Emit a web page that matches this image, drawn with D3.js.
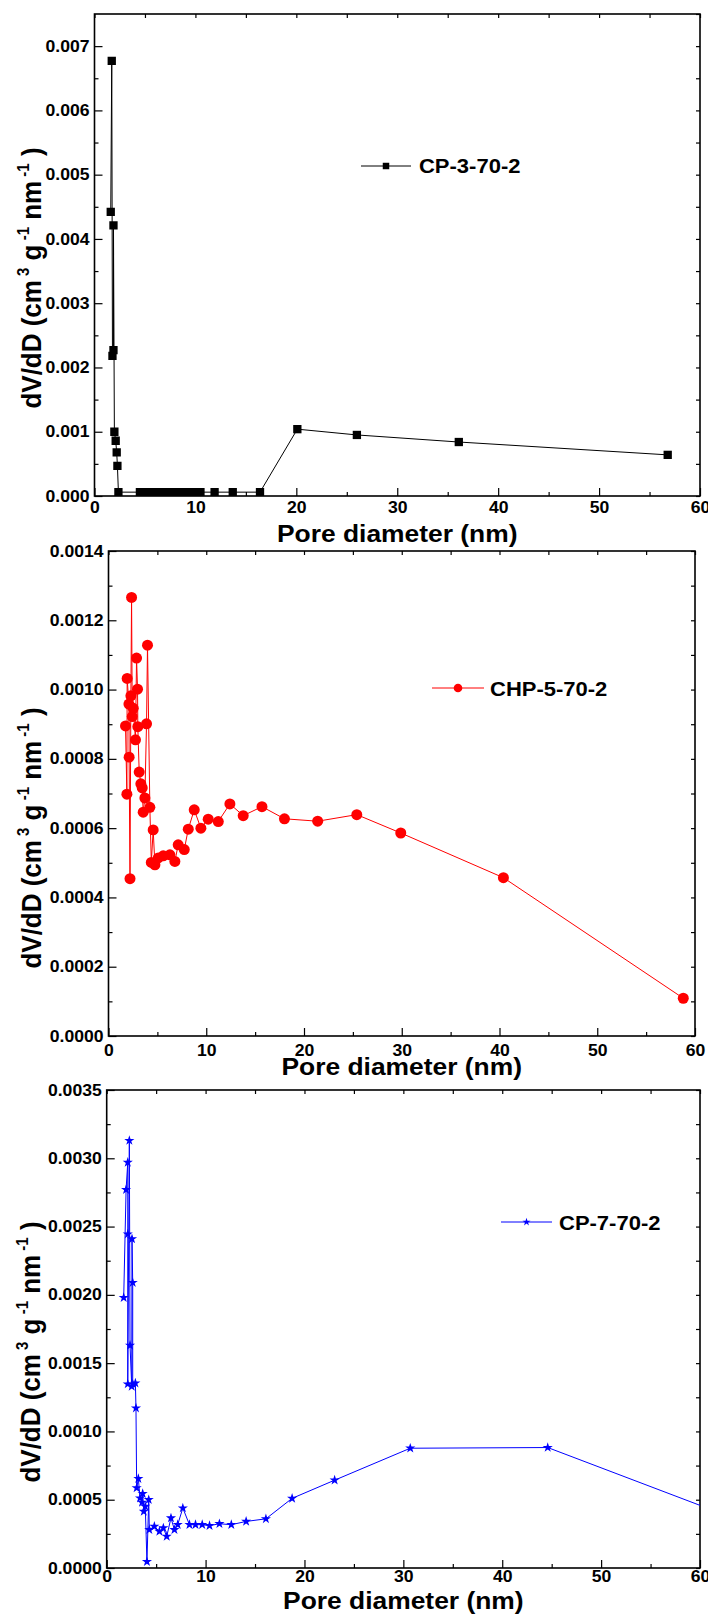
<!DOCTYPE html>
<html>
<head>
<meta charset="utf-8">
<script src="https://cdn.jsdelivr.net/npm/d3@7"></script>
<style>
  body { margin: 0; background: #fff; }
  svg text { font-family: "Liberation Sans", Arial, sans-serif; font-weight: bold; fill: #000; }
  .tick text { font-size: 16px; }
  .tick line { stroke: #000; stroke-width: 1.2px; }
  .legend-label { font-size: 20px; }
  .x-title { font-size: 24px; }
  .y-title { font-size: 26px; }
</style>
</head>
<body>
<svg id="fig" width="708" height="1617"></svg>
<script>
// ---- Pore-size distributions (BJH dV/dD) ----

// CP-3-70-2
const cp3Diameter = [1.61, 1.71, 1.78, 1.88, 1.88, 1.97, 2.10, 2.20, 2.27, 2.37,
  4.5, 4.9, 5.3, 5.7, 6.1, 6.6, 7.1, 7.6, 8.1, 8.7, 9.3, 9.9, 10.5,
  11.9, 13.7, 16.4, 20.1, 26.0, 36.1, 56.8];
const cp3DvDd = [0.00442, 0.00677, 0.00218, 0.00227, 0.00421, 0.00100, 0.00086, 0.00068, 0.00047, 0.00006,
  0.00006, 0.00006, 0.00006, 0.00006, 0.00006, 0.00006, 0.00006, 0.00006, 0.00006, 0.00006, 0.00006, 0.00006, 0.00006,
  0.00006, 0.00006, 0.00006, 0.00104, 0.00095, 0.00084, 0.00064];

// CHP-5-70-2
const chp5Diameter = [1.74, 1.88, 1.91, 2.09, 2.11, 2.20, 2.29, 2.36, 2.43, 2.53,
  2.76, 2.87, 2.97, 3.00, 3.14, 3.31, 3.45, 3.55, 3.72, 3.89,
  3.99, 4.23, 4.38, 4.57, 4.75, 5.09, 5.60, 6.28, 6.79, 7.13,
  7.75, 8.16, 8.77, 9.45, 10.2, 11.23, 12.42, 13.78, 15.7, 18.0,
  21.4, 25.4, 29.9, 40.4, 58.8];
const chp5DvDd = [0.000895, 0.000698, 0.001032, 0.000958, 0.000805, 0.000454, 0.000982, 0.001266, 0.000922, 0.000946,
  0.000855, 0.001091, 0.001001, 0.000893, 0.000762, 0.000728, 0.000716, 0.000646, 0.000687, 0.000901,
  0.001128, 0.000660, 0.000501, 0.000595, 0.000494, 0.000514, 0.000520, 0.000523, 0.000504, 0.000552,
  0.000538, 0.000597, 0.000653, 0.000600, 0.000626, 0.000619, 0.000670, 0.000636, 0.000662, 0.000627,
  0.000620, 0.000639, 0.000586, 0.000457, 0.000109];

// CP-7-70-2 (last point lies past the 60 nm axis limit)
const cp7Diameter = [1.72, 1.96, 2.13, 2.13, 2.13, 2.29, 2.36, 2.53, 2.56, 2.63,
  2.63, 2.90, 2.96, 3.03, 3.20, 3.37, 3.57, 3.64, 3.75, 3.90,
  4.07, 4.25, 4.31, 4.82, 5.33, 5.73, 6.07, 6.50, 6.85, 7.18,
  7.70, 8.37, 8.98, 9.66, 10.4, 11.4, 12.6, 14.1, 16.1, 18.75,
  23.05, 30.7, 44.6, 66.5];
const cp7DvDd = [0.00198, 0.00277, 0.00297, 0.002445, 0.001347, 0.00313, 0.00163, 0.00133, 0.00241, 0.00209,
  0.001347, 0.001354, 0.001171, 0.000586, 0.000654, 0.000512, 0.000480, 0.000544, 0.000414, 0.000451,
  0.000046, 0.000500, 0.000280, 0.000305, 0.000268, 0.000293, 0.000231, 0.000366, 0.000280, 0.000317,
  0.000439, 0.000317, 0.000317, 0.000317, 0.000310, 0.000324, 0.000317, 0.000341, 0.000360, 0.000510,
  0.000643, 0.000877, 0.000882, 0.000280];

// Axis ticks
const xTickValues = [0, 10, 20, 30, 40, 50, 60];
const xMinorTicks = [5, 15, 25, 35, 45, 55];
const cp3YTicks = [0, 0.001, 0.002, 0.003, 0.004, 0.005, 0.006, 0.007];
const chp5YTicks = [0, 0.0002, 0.0004, 0.0006, 0.0008, 0.0010, 0.0012, 0.0014];
const cp7YTicks = [0, 0.0005, 0.0010, 0.0015, 0.0020, 0.0025, 0.0030, 0.0035];

const svg = d3.select("#fig");
svg.append("rect").attr("width", 708).attr("height", 1617).attr("fill", "#fff");

// Horizontal stretch for bold labels, about each label's anchor point
function stretchX(sel, k) {
  sel.each(function () {
    const t = d3.select(this);
    const ax = +(t.attr("x") || 0);
    t.attr("transform", `translate(${ax},0) scale(${k},1) translate(${-ax},0)`);
  });
}

function drawPanel(cfg) {
  const w = cfg.right - cfg.left, h = cfg.bottom - cfg.top;
  const x = d3.scaleLinear().domain([0, 60]).range([0, w]);
  const y = d3.scaleLinear().domain([0, cfg.yMax]).range([h, 0]);
  const g = svg.append("g").attr("transform", `translate(${cfg.left},${cfg.top})`);

  const clipId = "clip-" + cfg.id;
  g.append("clipPath").attr("id", clipId)
    .append("rect").attr("x", 0).attr("y", 0).attr("width", w).attr("height", h);

  // minor ticks: left and bottom; mirrored ticks on right and top
  const yMinor = d3.range(cfg.yStep / 2, cfg.yMax, cfg.yStep);
  g.append("g").call(d3.axisLeft(y).tickValues(yMinor).tickSize(-4).tickSizeOuter(0).tickFormat(""))
    .call(a => a.select(".domain").remove());
  g.append("g").attr("transform", `translate(${w},0)`)
    .call(d3.axisRight(y).tickValues(d3.range(0, cfg.yMax + 1e-9, cfg.yStep / 2)).tickSize(-4).tickSizeOuter(0).tickFormat(""))
    .call(a => a.select(".domain").remove());
  g.append("g").attr("transform", `translate(0,${h})`)
    .call(d3.axisBottom(x).tickValues(xMinorTicks).tickSize(-4).tickSizeOuter(0).tickFormat(""))
    .call(a => a.select(".domain").remove());
  g.append("g")
    .call(d3.axisTop(x).tickValues(xTickValues.concat(xMinorTicks)).tickSize(-4).tickSizeOuter(0).tickFormat(""))
    .call(a => a.select(".domain").remove());

  // major axes with labels
  const ax = g.append("g").attr("transform", `translate(0,${h})`)
    .call(d3.axisBottom(x).tickValues(xTickValues).tickSize(-8).tickSizeOuter(0).tickPadding(cfg.xPad).tickFormat(d3.format("d")));
  ax.select(".domain").remove();
  ax.attr("font-size", null).attr("font-family", null);
  stretchX(ax.selectAll("text"), 1.1);

  const ay = g.append("g")
    .call(d3.axisLeft(y).tickValues(cfg.yTicks).tickSize(-8).tickSizeOuter(0).tickPadding(5).tickFormat(d3.format(cfg.yFmt)));
  ay.select(".domain").remove();
  ay.attr("font-size", null).attr("font-family", null);
  stretchX(ay.selectAll("text"), 1.1);

  // frame
  g.append("rect").attr("width", w).attr("height", h)
    .attr("fill", "none").attr("stroke", "#000").attr("stroke-width", 1.6);

  // series
  const pts = cfg.xs.map((d, i) => [d, cfg.ys[i]]);
  const plot = g.append("g").attr("clip-path", `url(#${clipId})`);
  plot.append("path").datum(pts)
    .attr("d", d3.line().x(d => x(d[0])).y(d => y(d[1])))
    .attr("fill", "none").attr("stroke", cfg.color).attr("stroke-width", 1);
  plot.selectAll("path.mk").data(pts).join("path").attr("class", "mk")
    .attr("transform", d => `translate(${x(d[0])},${y(d[1])})`)
    .attr("d", d3.symbol().type(cfg.symbol).size(cfg.symSize)())
    .attr("fill", cfg.color);

  // legend
  const lg = svg.append("g");
  lg.append("line").attr("x1", cfg.legend.x1).attr("x2", cfg.legend.x2)
    .attr("y1", cfg.legend.y).attr("y2", cfg.legend.y)
    .attr("stroke", cfg.color).attr("stroke-width", 1);
  lg.append("path")
    .attr("transform", `translate(${(cfg.legend.x1 + cfg.legend.x2) / 2},${cfg.legend.y})`)
    .attr("d", d3.symbol().type(cfg.symbol).size(cfg.legendSymSize)())
    .attr("fill", cfg.color);
  const lt = lg.append("text").attr("class", "legend-label")
    .attr("x", cfg.legend.tx).attr("y", cfg.legend.ty).text(cfg.name);
  stretchX(lt, 1.1);

  // x title
  const xt = svg.append("text").attr("class", "x-title")
    .attr("x", (cfg.left + cfg.right) / 2).attr("y", cfg.xTitleY)
    .attr("text-anchor", "middle").text("Pore diameter (nm)");
  stretchX(xt, 1.1);

  // y title with superscripts
  const yt = svg.append("text").attr("class", "y-title")
    .attr("text-anchor", "middle")
    .attr("transform", `translate(${cfg.yTitleX},${cfg.yTitleY}) rotate(-90) scale(1,1.05)`);
  yt.append("tspan").text("dV/dD (cm");
  yt.append("tspan").attr("font-size", 15).attr("dy", -11).text(" 3");
  yt.append("tspan").attr("dy", 11).text(" g");
  yt.append("tspan").attr("font-size", 15).attr("dy", -11).text(" -1");
  yt.append("tspan").attr("dy", 11).text(" nm");
  yt.append("tspan").attr("font-size", 15).attr("dy", -11).text(" -1");
  yt.append("tspan").attr("dy", 11).text(" )");
}

drawPanel({
  id: "cp3", name: "CP-3-70-2", color: "#000", symbol: d3.symbolSquare, symSize: 69, legendSymSize: 42,
  xs: cp3Diameter, ys: cp3DvDd,
  left: 94.5, right: 700, top: 14, bottom: 496,
  yMax: 0.0075, yStep: 0.001, yTicks: cp3YTicks, yFmt: ".3f", xPad: 6,
  legend: { x1: 361, x2: 411, y: 166, tx: 419, ty: 173 },
  xTitleY: 542, yTitleX: 41, yTitleY: 278
});

drawPanel({
  id: "chp5", name: "CHP-5-70-2", color: "#ff0000", symbol: d3.symbolCircle, symSize: 95, legendSymSize: 58,
  xs: chp5Diameter, ys: chp5DvDd,
  left: 108.5, right: 695, top: 551, bottom: 1036,
  yMax: 0.0014, yStep: 0.0002, yTicks: chp5YTicks, yFmt: ".4f", xPad: 9,
  legend: { x1: 432, x2: 484, y: 688, tx: 490, ty: 696 },
  xTitleY: 1075, yTitleX: 41, yTitleY: 838
});

drawPanel({
  id: "cp7", name: "CP-7-70-2", color: "#0000ff", symbol: d3.symbolStar, symSize: 32, legendSymSize: 20,
  xs: cp7Diameter, ys: cp7DvDd,
  left: 106.7, right: 700, top: 1090, bottom: 1568,
  yMax: 0.0035, yStep: 0.0005, yTicks: cp7YTicks, yFmt: ".4f", xPad: 3,
  legend: { x1: 501, x2: 552, y: 1222, tx: 559, ty: 1230 },
  xTitleY: 1609, yTitleX: 40, yTitleY: 1352
});
</script>
</body>
</html>
